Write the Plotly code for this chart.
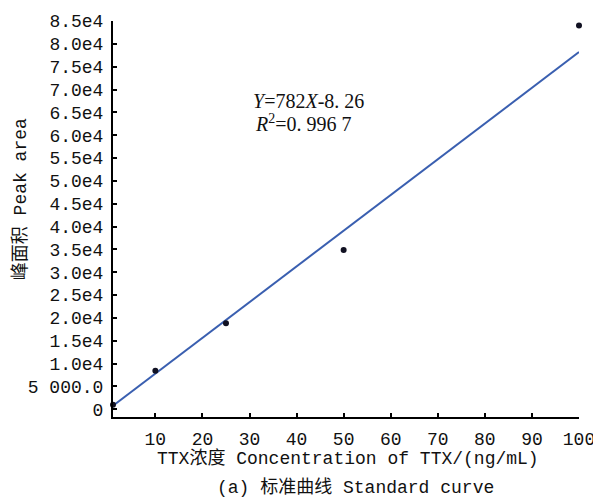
import plotly.graph_objects as go

# Data
conc = [1, 10, 25, 50, 100]            # TTX concentration (ng/mL)
peak_area = [1000, 8400, 18850, 34850, 84000]
slope = 782
intercept = -8.26
line_x = [1, 100]
line_y = [slope * v + intercept for v in line_x]

x_ticks = [10, 20, 30, 40, 50, 60, 70, 80, 90, 100]
y_tickvals = [0, 5000, 10000, 15000, 20000, 25000, 30000, 35000, 40000, 45000,
              50000, 55000, 60000, 65000, 70000, 75000, 80000, 85000]
y_ticktext = ["0", "5 000.0", "1.0e4", "1.5e4", "2.0e4", "2.5e4", "3.0e4", "3.5e4",
              "4.0e4", "4.5e4", "5.0e4", "5.5e4", "6.0e4", "6.5e4", "7.0e4",
              "7.5e4", "8.0e4", "8.5e4"]

FONT = "Liberation Mono, Noto Sans CJK SC, monospace"

fig = go.Figure()
fig.add_trace(go.Scatter(x=line_x, y=line_y, mode="lines",
                         line=dict(color="#3a5fb0", width=2), showlegend=False))
fig.add_trace(go.Scatter(x=conc, y=peak_area, mode="markers",
                         marker=dict(color="#111122", size=6), showlegend=False,
                         cliponaxis=False))

# page body has an 8px margin, so the figure is 8px smaller and offset
fig.update_layout(
    width=593, height=492,
    margin=dict(l=105, r=22, t=13, b=83, autoexpand=False),
    paper_bgcolor="white", plot_bgcolor="white",
    font=dict(family=FONT, size=18, color="#111"),
    xaxis=dict(range=[1, 100], tickvals=x_ticks, showgrid=False, zeroline=False,
               showline=True, linecolor="black", linewidth=2,
               ticks="inside", ticklen=4, tickcolor="black", tickwidth=1.5,
               ticklabelstandoff=4, automargin=False),
    yaxis=dict(range=[-1700, 85000], tickvals=y_tickvals, ticktext=y_ticktext,
               showgrid=False, zeroline=False,
               showline=True, linecolor="black", linewidth=2,
               ticks="inside", ticklen=4, tickcolor="black", tickwidth=1.5,
               ticklabelstandoff=4, automargin=False),
    annotations=[
        dict(text="TTX浓度 Concentration of TTX/(ng/mL)", xref="paper", yref="paper",
             x=0.5, y=0, xanchor="center", yanchor="middle", yshift=-41, xshift=2,
             showarrow=False, font=dict(family=FONT, size=18)),
        dict(text="(a) 标准曲线 Standard curve", xref="paper", yref="paper",
             x=0.5, y=0, xanchor="center", yanchor="middle", yshift=-70, xshift=9,
             showarrow=False, font=dict(family=FONT, size=18)),
        dict(text="峰面积 Peak area", xref="paper", yref="paper",
             x=0, y=0.55, xanchor="center", yanchor="middle", xshift=-93,
             textangle=-90, showarrow=False, font=dict(family=FONT, size=18)),
        dict(text="<i>Y</i>=782<i>X</i>-8. 26", xref="x", yref="y",
             x=42.6, y=67430, xanchor="center", yanchor="middle", showarrow=False,
             font=dict(family="Liberation Serif, serif", size=20, color="#111")),
        dict(text="<i>R</i><sup>2</sup>=0. 996 7", xref="x", yref="y",
             x=41.4, y=62610, xanchor="center", yanchor="middle", showarrow=False,
             font=dict(family="Liberation Serif, serif", size=20, color="#111")),
    ],
)

fig.write_html("out.html")
